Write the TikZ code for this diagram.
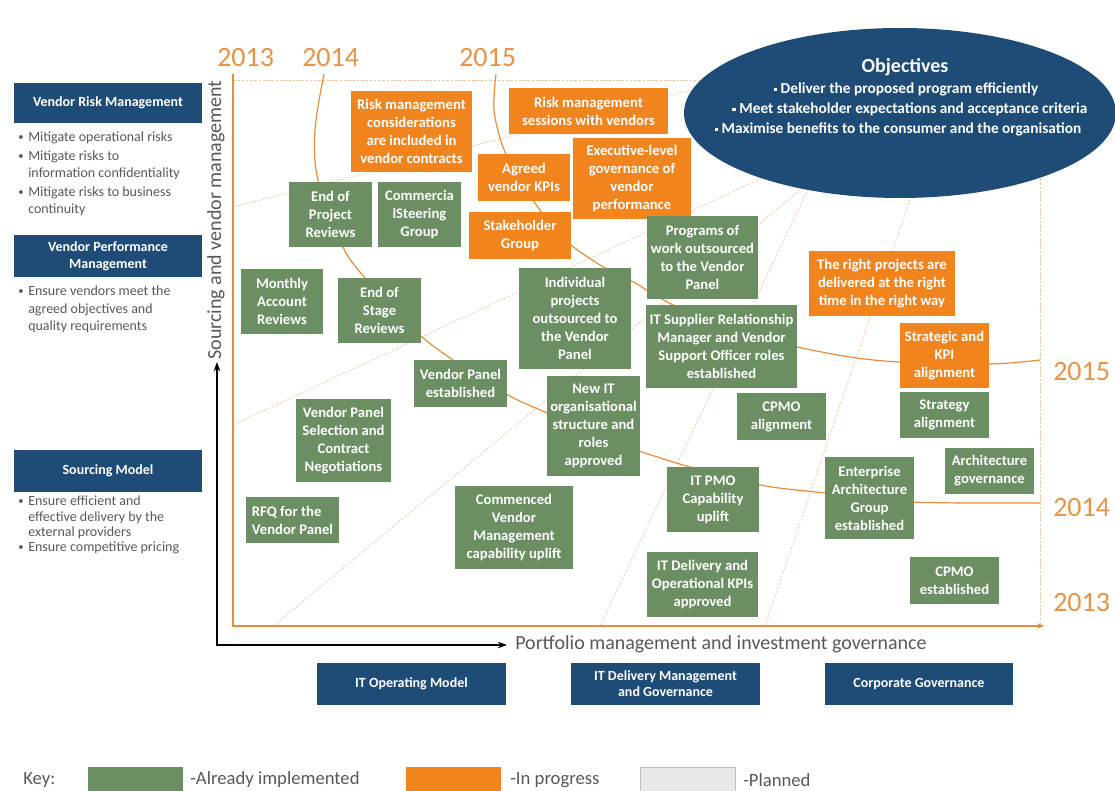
\documentclass[tikz,border=0pt]{standalone}
\usepackage{fontspec}
\setmainfont{Carlito}
\usetikzlibrary{shapes.geometric,arrows.meta}

\definecolor{implgreen}{RGB}{107,142,98}
\definecolor{progorange}{RGB}{242,132,30}
\definecolor{navy}{RGB}{31,76,118}
\definecolor{yearorange}{RGB}{232,146,72}
\definecolor{curveorange}{RGB}{232,140,60}
\definecolor{rayorange}{RGB}{240,198,160}
\definecolor{bodygray}{RGB}{88,88,88}
\definecolor{plannedgray}{RGB}{232,232,232}

\newcommand\sqbullet{\raisebox{0.25ex}{\rule{2.6pt}{2.6pt}}}

\begin{document}
\begin{tikzpicture}[x=0.75pt,y=-0.75pt,
  wh/.style 2 args={minimum width=#1*0.75pt,minimum height=#2*0.75pt},
  card/.style={rectangle,inner sep=0pt,align=center,text=white,
               font=\fontsize{11}{13.5}\selectfont\bfseries},
  done/.style={card,fill=implgreen},
  wip/.style={card,fill=progorange},
  navybox/.style={rectangle,inner sep=0pt,align=center,fill=navy,text=white,
                  font=\fontsize{10.5}{12.5}\selectfont\bfseries},
  note/.style={anchor=west,inner sep=0pt,align=left,text=bodygray,
               font=\fontsize{10.5}{13.1}\selectfont},
  dotmark/.style={anchor=west,inner sep=0pt,text=bodygray,font=\fontsize{8}{9}\selectfont},
  year/.style={anchor=west,inner sep=0pt,text=yearorange,font=\fontsize{21}{24}\selectfont},
  yearline/.style={draw=curveorange,line width=0.9pt},
  ray/.style={draw=rayorange,line width=0.5pt,dash pattern=on 2pt off 1.2pt},
  frameline/.style={draw=curveorange,line width=1.1pt},
  axisline/.style={draw=black,line width=0.9pt},
  axislabel/.style={inner sep=0pt,text=bodygray,font=\fontsize{15}{18}\selectfont},
  objline/.style={inner sep=0pt,text=white,font=\fontsize{11.5}{14}\selectfont\bfseries},
  keytext/.style={anchor=west,inner sep=0pt,text=bodygray,font=\fontsize{14}{16}\selectfont},
  keybox/.style={rectangle,inner sep=0pt,wh={95}{25}}
]
\useasboundingbox (0,0) rectangle (1115,791);

% faint guide rays across the chart area
\draw[ray] (233,80) -- (1040,80);
\draw[ray] (1040,80) -- (1040,626);
\draw[ray] (233,207) -- (700,88);
\draw[ray] (233,425) -- (790,165);
\draw[ray] (273,626) -- (800,190);
\draw[ray] (600,626) -- (830,143);
\draw[ray] (765,626) -- (920,170);

% 2013 frame
\coordinate (ftop) at (233,74);
\coordinate (fcorner) at (233,626);
\coordinate (fend) at (1044,626);
\draw[frameline,-{Stealth[length=5pt,width=4pt]}] (ftop) -- (fcorner) -- (fend);

% 2014 and 2015 milestone curves
\draw[yearline] plot[smooth,tension=0.55] coordinates {(324,74) (315,130) (318,180) (343,247) (365,278) (395,310) (422,337) (453,360) (508,395) (547,413) (600,437) (642,452) (690,467) (760,485) (825,493) (910,502) (1040,503)};
\draw[yearline] plot[smooth,tension=0.55] coordinates {(496,74) (494,110) (503,147) (520,180) (540,210) (565,240) (600,265) (630,280) (660,298) (700,318) (750,336) (797,347) (850,357) (900,362) (989,364) (1040,360)};

% year labels
\node[year] (y13top) at (217,58) {2013};
\node[year] (y14top) at (302,58) {2014};
\node[year] (y15top) at (459,58) {2015};
\node[year] (y15right) at (1053,372) {2015};
\node[year] (y14right) at (1053,508) {2014};
\node[year] (y13right) at (1053,603) {2013};

% initiatives in progress
\node[wip,wh={121}{81}] (rmc) at (411.5,131.5) {Risk management\\considerations\\are included in\\vendor contracts};
\node[wip,wh={159}{46}] (rms) at (588.5,111) {Risk management\\sessions with vendors};
\node[wip,wh={92}{47}] (avk) at (524,177.5) {Agreed\\vendor KPIs};
\node[wip,wh={118}{81}] (exec) at (632,178.5) {Executive-level\\governance of\\vendor\\performance};
\node[wip,wh={102}{47}] (stake) at (520,235.5) {Stakeholder\\Group};
\node[wip,wh={146}{65}] (rpd) at (882,283.5) {The right projects are\\delivered at the right\\time in the right way};
\node[wip,wh={89}{65}] (ska) at (944.5,355.5) {Strategic and\\KPI\\alignment};

% initiatives already implemented
\node[done,wh={83}{65}] (eopr) at (330.5,214.5) {End of\\Project\\Reviews};
\node[done,wh={83}{65}] (csg) at (419.5,214.5) {Commercia\\lSteering\\Group};
\node[done,wh={82}{65}] (mar) at (282,301.5) {Monthly\\Account\\Reviews};
\node[done,wh={83}{65}] (eosr) at (379.5,310.5) {End of\\Stage\\Reviews};
\node[done,wh={112}{101}] (ipo) at (575,318.5) {Individual\\projects\\outsourced to\\the Vendor\\Panel};
\node[done,wh={111}{83}] (pow) at (702.5,257.5) {Programs of\\work outsourced\\to the Vendor\\Panel};
\node[done,wh={151}{83}] (itsr) at (721.5,346.5) {IT Supplier Relationship\\Manager and Vendor\\Support Officer roles\\established};
\node[done,wh={89}{46}] (sa) at (944.5,415) {Strategy\\alignment};
\node[done,wh={89}{47}] (cpa) at (781.5,416.5) {CPMO\\alignment};
\node[done,wh={93}{47}] (vpe) at (460.5,383.5) {Vendor Panel\\established};
\node[done,wh={93}{100}] (newit) at (593.5,426) {New IT\\organisational\\structure and\\roles\\approved};
\node[done,wh={95}{83}] (vps) at (343.5,440.5) {Vendor Panel\\Selection and\\Contract\\Negotiations};
\node[done,wh={93}{46},align=left] (rfq) at (292.5,520) {RFQ for the\\Vendor Panel};
\node[done,wh={118}{83}] (cvm) at (514,527.5) {Commenced\\Vendor\\Management\\capability uplift};
\node[done,wh={92}{65}] (pmo) at (713,499.5) {IT PMO\\Capability\\uplift};
\node[done,wh={89}{82}] (eag) at (869.5,498) {Enterprise\\Architecture\\Group\\established};
\node[done,wh={89}{46}] (ag) at (989.5,471) {Architecture\\governance};
\node[done,wh={111}{65}] (itd) at (702.5,584.5) {IT Delivery and\\Operational KPIs\\approved};
\node[done,wh={89}{47}] (cpe) at (954.5,580.5) {CPMO\\established};

% objectives
\node[ellipse,fill=navy,inner sep=0pt,wh={432}{170}] (objshape) at (900,113) {};
\node[objline,font=\fontsize{15}{18}\selectfont\bfseries] (objtitle) at (905,67) {Objectives};
\node[objline] (obj1) at (906,89) {\sqbullet\ Deliver the proposed program efficiently};
\node[objline] (obj2) at (910,109) {\sqbullet\ Meet stakeholder expectations and acceptance criteria};
\node[objline] (obj3) at (898,129) {\sqbullet\ Maximise benefits to the consumer and the organisation};

% axes
\coordinate (axo) at (217,645);
\coordinate (axy) at (217,362);
\coordinate (axx) at (507,645);
\draw[axisline,{Stealth[length=7pt,width=5pt]}-{Stealth[length=7pt,width=5pt]}] (axy) -- (axo) -- (axx);
\node[axislabel,anchor=west] (xlabel) at (515,644) {Portfolio management and investment governance};
\node[axislabel,rotate=90] (ylabel) at (216,220) {Sourcing and vendor management};

% left-hand capability panel
\node[navybox,wh={188}{40}] (vrm) at (108,103) {Vendor Risk Management};
\node[dotmark] (vrmd1) at (18,138) {•};
\node[note] (vrmt1) at (28,138) {Mitigate operational risks};
\node[dotmark] (vrmd2) at (18,157) {•};
\node[note] (vrmt2) at (28,165.5) {Mitigate risks to\\information confidentiality};
\node[dotmark] (vrmd3) at (18,193) {•};
\node[note] (vrmt3) at (28,201.5) {Mitigate risks to business\\continuity};

\node[navybox,wh={188}{42}] (vpm) at (108,256) {Vendor Performance\\Management};
\node[dotmark] (vpmd1) at (18,292) {•};
\node[note] (vpmt1) at (28,309.5) {Ensure vendors meet the\\agreed objectives and\\quality requirements};

\node[navybox,wh={188}{42}] (smod) at (108,471) {Sourcing Model};
\node[dotmark] (smd1) at (18,502) {•};
\node[note,font=\fontsize{10.5}{11.6}\selectfont] (smt1) at (28,517.5) {Ensure efficient and\\effective delivery by the\\external providers};
\node[dotmark] (smd2) at (18,548) {•};
\node[note] (smt2) at (28,548) {Ensure competitive pricing};

% governance areas along the bottom
\node[navybox,wh={189}{42}] (itom) at (411.5,684) {IT Operating Model};
\node[navybox,wh={189}{42},font=\fontsize{10.5}{12}\selectfont\bfseries] (itdm) at (665.5,684) {IT Delivery Management\\and Governance};
\node[navybox,wh={188}{42}] (cg) at (919,684) {Corporate Governance};

% key
\node[keytext] (keylbl) at (23,780) {Key:};
\node[keybox,fill=implgreen] (keydone) at (135.5,779.5) {};
\node[keytext] (keydonet) at (190,780) {-Already implemented};
\node[keybox,fill=progorange] (keywip) at (453.5,779.5) {};
\node[keytext] (keywipt) at (510,780) {-In progress};
\node[keybox,fill=plannedgray,draw=black!25] (keyplan) at (687.5,779.5) {};
\node[keytext] (keyplant) at (743,780) {-Planned};
\end{tikzpicture}
\end{document}
